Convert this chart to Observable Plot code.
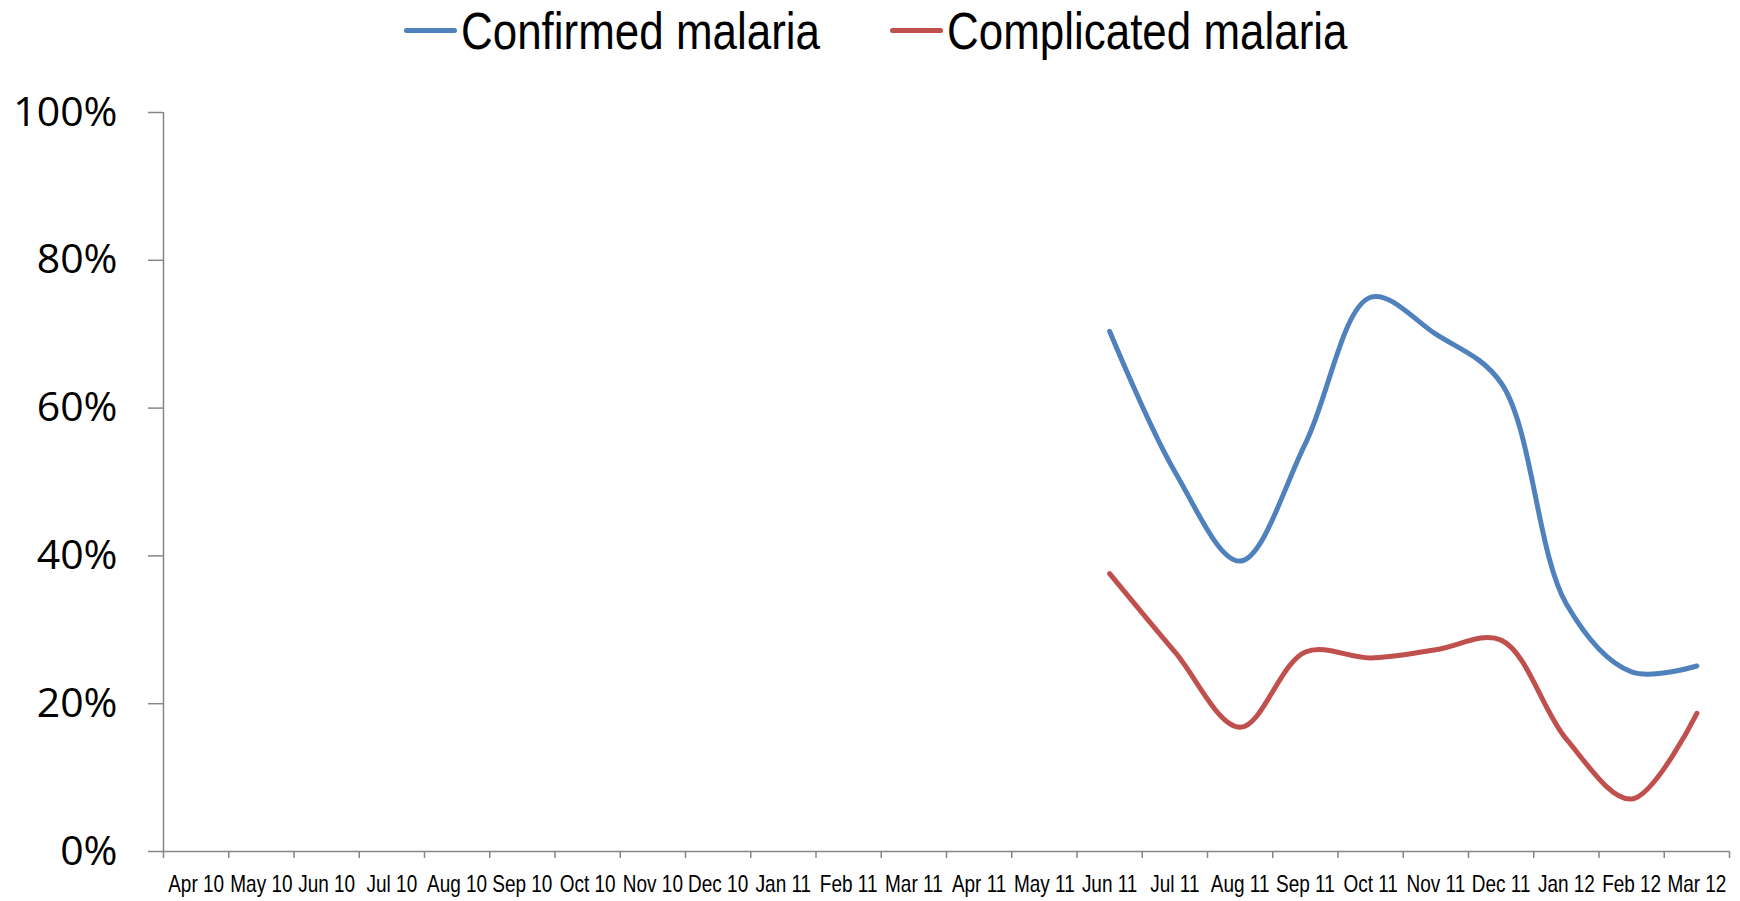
<!DOCTYPE html>
<html>
<head>
<meta charset="utf-8">
<script src="https://cdn.jsdelivr.net/npm/d3@7"></script>
<script src="https://cdn.jsdelivr.net/npm/@observablehq/plot@0.6"></script>
<style>
  html, body { margin: 0; padding: 0; background: #fff; }
  #legend { position: relative; height: 62px; font-family: "Liberation Sans", Arial, sans-serif; font-size: 52px; color: #000; }
  .sw { position: absolute; top: 28px; width: 53px; height: 5px; border-radius: 3px; }
  .lt { position: absolute; top: 0; line-height: 62px; white-space: nowrap; transform: scaleX(0.845); transform-origin: 0 50%; }
</style>
</head>
<body>
<div id="legend">
  <span class="sw" style="left:404px;background:#4F81BD"></span><span class="lt" style="left:461px">Confirmed malaria</span>
  <span class="sw" style="left:890px;background:#C0504D"></span><span class="lt" style="left:947px">Complicated malaria</span>
</div>
<div id="chart"></div>
<script>
const months = ["Apr 10","May 10","Jun 10","Jul 10","Aug 10","Sep 10","Oct 10","Nov 10","Dec 10","Jan 11","Feb 11","Mar 11",
                "Apr 11","May 11","Jun 11","Jul 11","Aug 11","Sep 11","Oct 11","Nov 11","Dec 11","Jan 12","Feb 12","Mar 12"];
const confirmed   = [null,null,null,null,null,null,null,null,null,null,null,null,null,null, 70.4, 51.4, 39.3, 55.2, 75.0, 70.0, 63.4, 33.5, 24.3, 25.1];
const complicated = [null,null,null,null,null,null,null,null,null,null,null,null,null,null, 37.6, 27.0, 16.8, 27.0, 26.2, 27.3, 28.6, 15.2, 7.1, 18.7];
const yTicks = [0, 20, 40, 60, 80, 100];

const rows = months.map((m, i) => ({i: i + 0.5, m, confirmed: confirmed[i], complicated: complicated[i]}));
const conf = rows.filter(d => d.confirmed != null);
const comp = rows.filter(d => d.complicated != null);
const bounds = d3.range(months.length + 1);

const axisColor = "#868686";
const chart = Plot.plot({
  width: 1740,
  height: 839,
  marginLeft: 163,
  marginRight: 11,
  marginTop: 50,
  marginBottom: 50,
  x: {domain: [0, months.length], axis: null},
  y: {domain: [0, 100], axis: null},
  style: {background: "#fff"},
  marks: [
    Plot.axisY({ticks: yTicks, tickSize: 15, tickPadding: 31, tickFormat: d => d + "%",
      stroke: axisColor, strokeWidth: 1.5, fill: "#000", fontSize: 41, fontFamily: "'Open Sans', sans-serif"}),
    Plot.ruleX(bounds, {x: d => d, y1: 0, y2: 0, insetBottom: -7, stroke: axisColor, strokeWidth: 1.5}),
    Plot.text(rows, {x: "i", y: 0, text: "m", dy: 33, fill: "#000", fontSize: 24,
      fontFamily: "'Liberation Sans', Arial, sans-serif", textAnchor: "middle", lineAnchor: "middle", className: "xlab"}),
    Plot.ruleX([0], {stroke: axisColor, strokeWidth: 1.5}),
    Plot.ruleY([0], {stroke: axisColor, strokeWidth: 1.5}),
    Plot.line(conf, {x: "i", y: "confirmed", stroke: "#4F81BD", strokeWidth: 5, curve: "catmull-rom", strokeLinecap: "round"}),
    Plot.line(comp, {x: "i", y: "complicated", stroke: "#C0504D", strokeWidth: 5, curve: "catmull-rom", strokeLinecap: "round"})
  ]
});
document.getElementById("chart").appendChild(chart);
// condense x labels (the original uses a narrow face)
chart.querySelectorAll(".xlab text").forEach(t => {
  const w = t.getComputedTextLength();
  t.setAttribute("textLength", (w * 0.79).toFixed(1));
  t.setAttribute("lengthAdjust", "spacingAndGlyphs");
});
</script>
</body>
</html>
